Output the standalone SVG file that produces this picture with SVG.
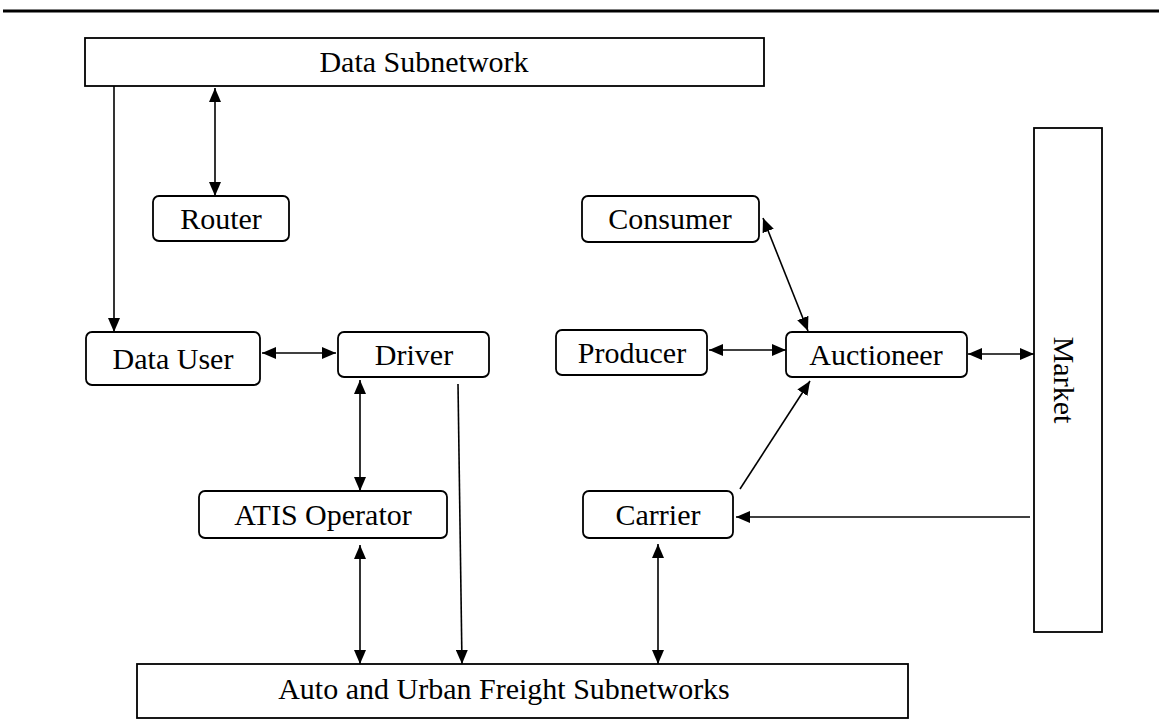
<svg xmlns="http://www.w3.org/2000/svg" width="1159" height="728" viewBox="0 0 1159 728">
  <style>
    .box { fill: #ffffff; stroke: #000000; stroke-width: 1.8; }
    .block { fill: #ffffff; stroke: #000000; stroke-width: 1.8; }
    .lbl { font-family: "Liberation Serif", "Times New Roman", serif; font-size: 30px; fill: #000000; text-anchor: middle; }
    .link { stroke: #000000; stroke-width: 1.6; fill: none; }
    .one { marker-end: url(#head); }
    .two { marker-start: url(#head); marker-end: url(#head); }
  </style>
  <defs>
    <marker id="head" viewBox="0 0 14 12" refX="14" refY="6" markerWidth="14" markerHeight="12" markerUnits="userSpaceOnUse" orient="auto-start-reverse">
      <path d="M0,0 L14,6 L0,12 z" fill="#000000"/>
    </marker>
  </defs>

  <!-- page rule -->
  <line x1="3" y1="11" x2="1159" y2="11" stroke="#000000" stroke-width="3"/>

  <g id="data-subnetwork">
    <rect class="block" x="85" y="38" width="679" height="48"/>
    <text class="lbl" x="424" y="72">Data Subnetwork</text>
  </g>

  <g id="router">
    <rect class="box" x="153" y="196" width="136" height="45" rx="6"/>
    <text class="lbl" x="221" y="229">Router</text>
  </g>

  <g id="data-user">
    <rect class="box" x="86" y="332" width="174" height="53" rx="6"/>
    <text class="lbl" x="173" y="369">Data User</text>
  </g>

  <g id="driver">
    <rect class="box" x="338" y="332" width="151" height="45" rx="6"/>
    <text class="lbl" x="414" y="365">Driver</text>
  </g>

  <g id="atis-operator">
    <rect class="box" x="199" y="491" width="248" height="47" rx="6"/>
    <text class="lbl" x="323" y="525">ATIS Operator</text>
  </g>

  <g id="consumer">
    <rect class="box" x="582" y="196" width="177" height="46" rx="6"/>
    <text class="lbl" x="670" y="229">Consumer</text>
  </g>

  <g id="producer">
    <rect class="box" x="556" y="330" width="151" height="45" rx="6"/>
    <text class="lbl" x="632" y="363">Producer</text>
  </g>

  <g id="auctioneer">
    <rect class="box" x="786" y="332" width="181" height="45" rx="6"/>
    <text class="lbl" x="876" y="365">Auctioneer</text>
  </g>

  <g id="carrier">
    <rect class="box" x="583" y="491" width="150" height="47" rx="6"/>
    <text class="lbl" x="658" y="525">Carrier</text>
  </g>

  <g id="market">
    <rect class="block" x="1034" y="128" width="68" height="504"/>
    <text class="lbl" transform="translate(1054,380) rotate(90)" x="0" y="0">Market</text>
  </g>

  <g id="auto-urban-freight">
    <rect class="block" x="137" y="664" width="771" height="54"/>
    <text class="lbl" x="504" y="699">Auto and Urban Freight Subnetworks</text>
  </g>

  <g id="connectors">
    <line class="link one" x1="114" y1="86" x2="114" y2="332"/>
    <line class="link two" x1="215" y1="88" x2="215" y2="196"/>
    <line class="link two" x1="262" y1="353" x2="336" y2="353"/>
    <line class="link two" x1="360" y1="380" x2="360" y2="491"/>
    <line class="link two" x1="360" y1="545" x2="360" y2="664"/>
    <line class="link one" x1="458" y1="384" x2="462" y2="664"/>
    <line class="link two" x1="658" y1="544" x2="658" y2="664"/>
    <line class="link one" x1="1030" y1="517" x2="736" y2="517"/>
    <line class="link one" x1="740" y1="489" x2="810" y2="381"/>
    <line class="link two" x1="709" y1="350" x2="786" y2="350"/>
    <line class="link two" x1="763" y1="218" x2="808" y2="331"/>
    <line class="link two" x1="968" y1="354" x2="1034" y2="354"/>
  </g>
</svg>
